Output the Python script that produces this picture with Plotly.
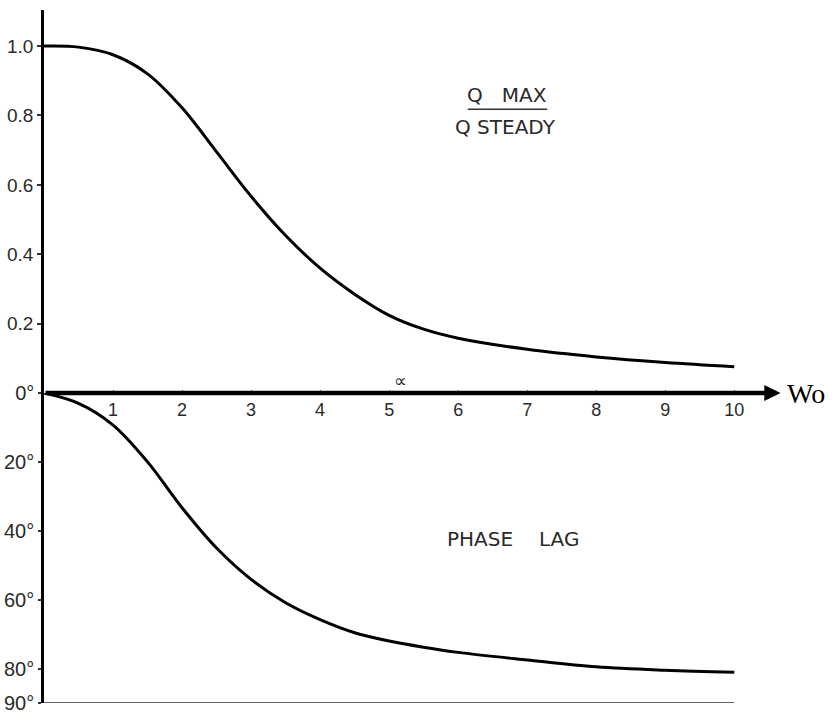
import plotly.graph_objects as go

# ---- data ----
wo = [0, 0.5, 1, 1.5, 2, 2.5, 3, 3.5, 4, 4.5, 5, 5.5, 6, 7, 8, 9, 10]
q_ratio = [1.0, 0.997, 0.975, 0.92, 0.822, 0.695, 0.567, 0.454, 0.36, 0.285,
           0.224, 0.184, 0.158, 0.126, 0.104, 0.088, 0.076]
phase_lag = [0, 3.0, 9.3, 20.0, 33.3, 45.0, 54.1, 60.9, 65.8, 69.6,
             72.0, 73.8, 75.3, 77.5, 79.5, 80.5, 81.1]

x_ticks = [1, 2, 3, 4, 5, 6, 7, 8, 9, 10]
q_ticks = [0.2, 0.4, 0.6, 0.8, 1.0]
q_ticktext = ["0.2", "0.4", "0.6", "0.8", "1.0"]
deg_ticks = [0, 20, 40, 60, 80, 90]
deg_ticktext = ["0°", "20°", "40°", "60°", "80°", "90°"]

SPLIT = 0.4473
LABELFONT = dict(family="DejaVu Sans", size=20, color="#2a2a2a")

fig = go.Figure()
fig.add_trace(go.Scatter(x=wo, y=q_ratio, mode="lines", xaxis="x", yaxis="y",
                         line=dict(color="black", width=3, shape="spline", smoothing=1.0),
                         hoverinfo="skip", showlegend=False))
fig.add_trace(go.Scatter(x=wo, y=phase_lag, mode="lines", xaxis="x", yaxis="y2",
                         line=dict(color="black", width=3, shape="spline", smoothing=1.0),
                         hoverinfo="skip", showlegend=False))

fig.update_layout(
    width=834, height=713,
    margin=dict(l=44, r=10, t=10, b=10, autoexpand=False),
    paper_bgcolor="white", plot_bgcolor="white",
    showlegend=False,
    xaxis=dict(range=[0, 11.3], anchor="free", position=SPLIT, automargin=False,
               showgrid=False, zeroline=False, showline=False,
               tickvals=x_ticks, ticks="inside", ticklen=3, tickwidth=1,
               tickcolor="#555", tickfont=dict(family="Liberation Sans", size=18, color="#2a2a2a"),
               ticklabelstandoff=4),
    yaxis=dict(domain=[SPLIT, 1], range=[0, 1.104], anchor="x", automargin=False,
               showgrid=False, zeroline=False, showline=True, linewidth=2.5,
               linecolor="black", tickvals=q_ticks, ticktext=q_ticktext,
               ticks="outside", ticklen=4, tickwidth=1.5, tickcolor="#333",
               tickfont=dict(family="Liberation Sans", size=19, color="#2a2a2a")),
    yaxis2=dict(domain=[0, SPLIT], range=[90, 0], anchor="x", automargin=False,
                showgrid=False, zeroline=False, showline=True, linewidth=2.5,
                linecolor="black", tickvals=deg_ticks, ticktext=deg_ticktext,
                ticks="outside", ticklen=3, tickwidth=1.5, tickcolor="#333",
                ticklabelstandoff=0, ticklabeloverflow="allow",
                tickfont=dict(family="Liberation Sans", size=20, color="#2a2a2a")),
)

# horizontal axis with arrow
fig.add_annotation(x=10.67, y=0, xref="x", yref="y", ax=0, ay=0, axref="x", ayref="y",
                   text="", showarrow=True, arrowhead=2, arrowsize=0.72,
                   arrowwidth=4.5, arrowcolor="black")
fig.add_annotation(x=10.74, y=0, xref="x", yref="y", text="Wo", showarrow=False,
                   xanchor="left", yanchor="middle",
                   font=dict(family="Liberation Serif", size=28, color="black"))
fig.add_annotation(x=5.16, y=0.035, xref="x", yref="y", text="∝", showarrow=False,
                   font=dict(family="DejaVu Sans", size=18, color="#2a2a2a"))

# bottom baseline at 90 deg
fig.add_shape(type="line", xref="x", yref="y2", x0=0, x1=10, y0=90, y1=90,
              line=dict(color="#333", width=1.5))

# labels
fig.add_annotation(x=6.71, y=0.860, xref="x", yref="y", text="Q&nbsp;&nbsp;&nbsp;MAX",
                   showarrow=False, font=LABELFONT)
fig.add_shape(type="line", xref="x", yref="y", x0=6.14, x1=7.29, y0=0.818, y1=0.818,
              line=dict(color="#333", width=1.5))
fig.add_annotation(x=6.68, y=0.767, xref="x", yref="y", text="Q STEADY",
                   showarrow=False, font=LABELFONT)
fig.add_annotation(x=6.31, y=42.4, xref="x", yref="y2", text="PHASE",
                   showarrow=False, font=LABELFONT)
fig.add_annotation(x=7.46, y=42.4, xref="x", yref="y2", text="LAG",
                   showarrow=False, font=LABELFONT)

fig.write_html("out.html", config={"displayModeBar": False},
               post_script="document.body.style.margin='0px';document.body.style.overflow='hidden';")
